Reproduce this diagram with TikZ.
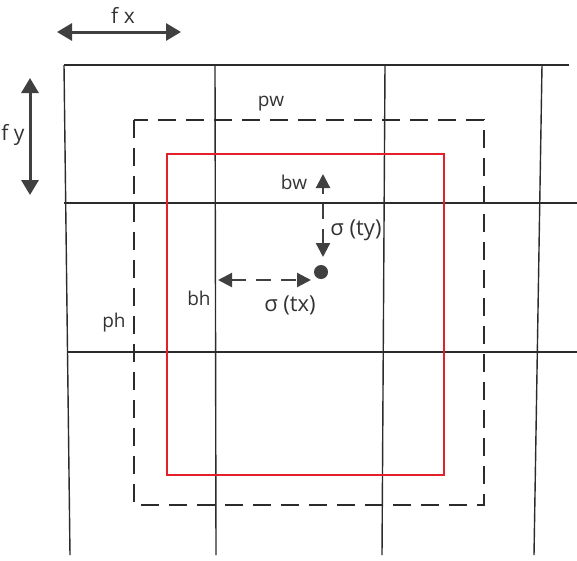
\documentclass[tikz,border=0pt]{standalone}
\usepackage{fontspec}
\setmainfont{Open Sans}
\usetikzlibrary{arrows.meta}
\definecolor{gridc}{HTML}{2B2B2B}
\definecolor{arrc}{HTML}{404040}
\definecolor{txtc}{HTML}{333333}
\definecolor{redc}{HTML}{E3202A}
\tikzset{
  gridline/.style={draw=gridc, line width=1.4pt},
  anchorbox/.style={draw=gridc, line width=2pt, dash pattern=on 18pt off 10pt},
  predbox/.style={draw=redc, line width=2pt},
  bigarrow/.style={draw=arrc, line width=3pt, {Triangle[length=15pt,width=17pt]}-{Triangle[length=15pt,width=17pt]}},
  smallarrow/.style={draw=arrc, line width=2.2pt, dash pattern=on 15pt off 10pt, {Triangle[length=14pt,width=14pt]}-{Triangle[length=14pt,width=14pt]}},
  lbl/.style={inner sep=0pt, font=\fontsize{19}{21}\selectfont, text=txtc},
  siglbl/.style={inner sep=0pt, font=\fontsize{22}{24}\selectfont, text=txtc},
  biglbl/.style={inner sep=0pt, font=\fontsize{21}{23}\selectfont, text=txtc}
}
\begin{document}
\begin{tikzpicture}[x=1pt,y=-1pt]
\useasboundingbox (0,0) rectangle (577,560);
% grid
\draw[gridline] (64,65) -- (569,65);
\draw[gridline] (64,203) -- (577,203);
\draw[gridline] (67,352) -- (577,352);
\draw[gridline] (64,65) -- (70,555);
\draw[gridline] (215,65) -- (216,555);
\draw[gridline] (385,65) -- (382,555);
\draw[gridline] (542,65) -- (534,555);
% anchor (dashed) box
\draw[anchorbox] (134,120) rectangle (484,505);
% predicted (red) box
\draw[predbox] (167,154) rectangle (444,475);
% center dot
\node[circle, fill=arrc, minimum size=14pt, inner sep=0pt] (c) at (321,272) {};
\coordinate (ytop) at (323,174);
\coordinate (ybot) at (323,257);
\coordinate (xl) at (218,280);
\coordinate (xr) at (311,280);
\draw[smallarrow] (ybot) -- (ytop);
\draw[smallarrow] (xl) -- (xr);
% feature cell arrows
\coordinate (fxl) at (57,32);
\coordinate (fxr) at (181,32);
\coordinate (fyt) at (30,78);
\coordinate (fyb) at (30,195);
\draw[bigarrow] (fxl) -- (fxr);
\draw[bigarrow] (fyt) -- (fyb);
% labels
\node[biglbl] (fx) at (123,15) {f x};
\node[biglbl] (fy) at (13,135) {f y};
\node[lbl] (pw) at (271,104) {pw};
\node[lbl] (ph) at (114,323) {ph};
\node[lbl] (bw) at (294,182) {bw};
\node[lbl] (bh) at (199,298) {bh};
\node[siglbl] (ty) at (356,230) {σ (ty)};
\node[siglbl] (tx) at (290,305) {σ (tx)};
\end{tikzpicture}
\end{document}
